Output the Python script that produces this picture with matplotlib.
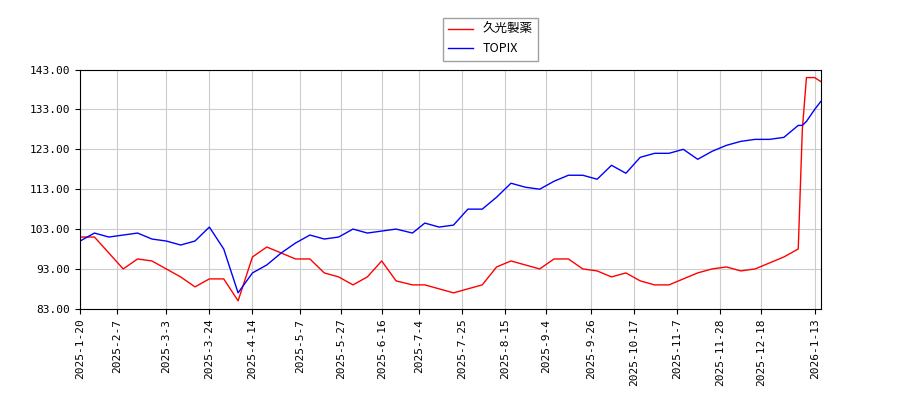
import matplotlib
matplotlib.use("Agg")
import matplotlib.pyplot as plt
import pandas as pd

dates = ["2025-01-20","2025-01-27","2025-02-03","2025-02-10","2025-02-17","2025-02-24","2025-03-03","2025-03-10",
         "2025-03-17","2025-03-24","2025-03-31","2025-04-07","2025-04-14","2025-04-21","2025-04-28","2025-05-05",
         "2025-05-12","2025-05-19","2025-05-26","2025-06-02","2025-06-09","2025-06-16","2025-06-23","2025-07-01",
         "2025-07-07","2025-07-14","2025-07-21","2025-07-28","2025-08-04","2025-08-11","2025-08-18","2025-08-25",
         "2025-09-01","2025-09-08","2025-09-15","2025-09-22","2025-09-29","2025-10-06","2025-10-13","2025-10-20",
         "2025-10-27","2025-11-03","2025-11-10","2025-11-17","2025-11-24","2025-12-01","2025-12-08","2025-12-15",
         "2025-12-22","2025-12-29","2026-01-05","2026-01-07","2026-01-09","2026-01-13","2026-01-16"]
hisamitsu = [101,101,97,93,95.5,95,93,91,88.5,90.5,90.5,85,96,98.5,97,95.5,95.5,92,91,89,91,95,90,89,
             89,88,87,88,89,93.5,95,94,93,95.5,95.5,93,92.5,91,92,90,89,89,90.5,92,93,93.5,92.5,93,
             94.5,96,98,128,141,141,140]
topix = [100,102,101,101.5,102,100.5,100,99,100,103.5,98,87,92,94,97,99.5,101.5,100.5,101,103,102,102.5,103,102,
         104.5,103.5,104,108,108,111,114.5,113.5,113,115,116.5,116.5,115.5,119,117,121,122,122,123,120.5,122.5,124,125,125.5,
         125.5,126,129,129,130,133,135]
ticks = ["2025-1-20","2025-2-7","2025-3-3","2025-3-24","2025-4-14","2025-5-7","2025-5-27","2025-6-16","2025-7-4",
         "2025-7-25","2025-8-15","2025-9-4","2025-9-26","2025-10-17","2025-11-7","2025-11-28","2025-12-18","2026-1-13"]

x = pd.to_datetime(dates)
fig = plt.figure(figsize=(9, 4), dpi=100)
ax = fig.add_axes([0.089, 0.228, 0.823, 0.598])
ax.plot(x, hisamitsu, color="red", lw=1, label="久光製薬")
ax.plot(x, topix, color="blue", lw=1, label="TOPIX")
ax.set_ylim(83, 143)
ax.set_yticks([83 + 10*i for i in range(7)])
ax.set_yticklabels([f"{83 + 10*i:.2f}" for i in range(7)], fontsize=8, family="DejaVu Sans Mono")
tx = pd.to_datetime(ticks)
ax.set_xticks(tx)
ax.set_xticklabels(ticks, rotation=90, fontsize=8, family="DejaVu Sans Mono")
ax.set_xlim(pd.Timestamp("2025-01-20"), pd.Timestamp("2026-01-16"))
ax.grid(True, color="#cccccc", lw=0.8)
fig.legend(loc="upper center", bbox_to_anchor=(0.545, 0.97),
           prop={"family": ["Noto Sans CJK JP", "DejaVu Sans Mono"], "size": 9},
           fancybox=False, edgecolor="#888888")
fig.savefig("out.png")
